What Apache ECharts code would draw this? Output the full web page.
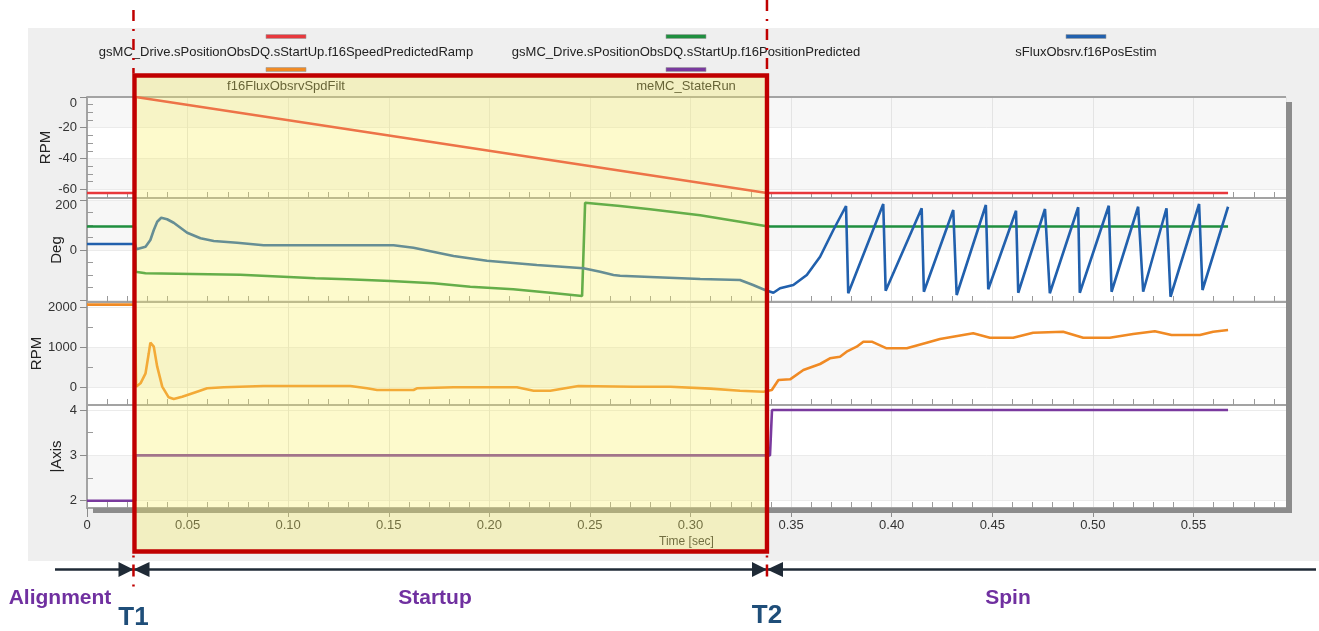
<!DOCTYPE html>
<html>
<head>
<meta charset="utf-8">
<script src="https://cdn.jsdelivr.net/npm/echarts@6/dist/echarts.min.js"></script>
<style>
  html, body { margin: 0; padding: 0; background: #ffffff; }
  #chart { width: 1319px; height: 631px; }
</style>
</head>
<body>
<div id="chart"></div>
<script>
// ---------- data ----------
// time axis (seconds)
const timeMin = 0;
const timeMax = 0.596;
const timeStep = 0.05;

// phase boundaries (seconds) and their names
const phaseBounds = [0.0231, 0.338];
const boundNames = ['T1', 'T2'];
const phaseNames = ['Alignment', 'Startup', 'Spin'];

const seriesNames = [
  'gsMC_Drive.sPositionObsDQ.sStartUp.f16SpeedPredictedRamp',
  'gsMC_Drive.sPositionObsDQ.sStartUp.f16PositionPredicted',
  'sFluxObsrv.f16PosEstim',
  'f16FluxObsrvSpdFilt',
  'meMC_StateRun'
];

// predicted speed ramp [RPM]
const rampTime = [0, 0.0238, 0.0242, 0.338, 0.5672];
const rampRpm  = [-62.4, -62.4, 0, -62.4, -62.4];

// predicted position [Deg]
const posPredTime = [0, 0.0238, 0.0241, 0.0291, 0.0762, 0.0976, 0.1135, 0.1294, 0.1508, 0.1722,
  0.1905, 0.2119, 0.2302, 0.2461, 0.2476, 0.2650, 0.2799, 0.3048, 0.3246, 0.3371, 0.3395, 0.5672];
const posPredDeg  = [94, 94, -87, -93, -99, -107, -113, -117, -124, -133,
  -147, -157, -171, -184, 189, 176, 163, 139, 113, 96, 94, 94];

// estimated position [Deg]
const posEstTime = [0, 0.0238, 0.0246, 0.0291, 0.0315, 0.0332, 0.0349, 0.0369, 0.0398, 0.0431,
  0.0498, 0.0564, 0.0630, 0.0746, 0.0878, 0.1524, 0.1623, 0.1822, 0.1988, 0.2236,
  0.2468, 0.2551, 0.2617, 0.2650, 0.2800, 0.3048, 0.3246, 0.3311, 0.3370, 0.3412,
  0.3445, 0.3511, 0.3578, 0.3644, 0.3710, 0.3773, 0.3784, 0.3958, 0.3970, 0.4149,
  0.4160, 0.4306, 0.4323, 0.4468, 0.4480, 0.4618, 0.4629, 0.4762, 0.4786, 0.4927,
  0.4935, 0.5079, 0.5093, 0.5225, 0.5250, 0.5366, 0.5386, 0.5528, 0.5545, 0.5672];
const posEstDeg  = [24, 24, 3, 13, 40, 80, 113, 129, 123, 109,
  69, 47, 36, 29, 19, 19, 9, -24, -43, -60,
  -73, -87, -100, -103, -108, -116, -120, -140, -160, -171,
  -153, -140, -100, -27, 80, 176, -173, 184, -163, 167,
  -167, 160, -180, 180, -157, 157, -171, 164, -173, 171,
  -171, 177, -167, 173, -167, 167, -187, 184, -160, 173];

// filtered observer speed [RPM]
const spdTime = [0, 0.0238, 0.0244, 0.0266, 0.0291, 0.0307, 0.0315, 0.0332, 0.0349, 0.0374,
  0.0406, 0.0431, 0.0473, 0.0547, 0.0597, 0.0680, 0.0878, 0.1309, 0.1392, 0.1442,
  0.1623, 0.1640, 0.1822, 0.2137, 0.2220, 0.2303, 0.2443, 0.2716, 0.2900, 0.3100,
  0.3246, 0.3362, 0.3404, 0.3437, 0.3495, 0.3561, 0.3644, 0.3693, 0.3743, 0.3776,
  0.3826, 0.3859, 0.3901, 0.3975, 0.4075, 0.4174, 0.4240, 0.4405, 0.4488, 0.4604,
  0.4703, 0.4852, 0.4952, 0.5084, 0.5200, 0.5308, 0.5391, 0.5532, 0.5598, 0.5672];
const spdRpm  = [2060, 2060, 8, 92, 342, 842, 1108, 1008, 508, 8,
  -258, -300, -242, -117, -33, -8, 25, 25, -33, -75,
  -75, -33, -8, -8, -92, -92, 25, 8, 8, -40,
  -92, -117, -75, 175, 192, 425, 575, 717, 758, 883,
  1008, 1133, 1133, 967, 967, 1108, 1200, 1342, 1233, 1233,
  1358, 1383, 1233, 1233, 1325, 1392, 1300, 1300, 1383, 1425];

// application state
const stateTime = [0, 0.0240, 0.0241, 0.3395, 0.3400, 0.3405, 0.5672];
const stateVal  = [2, 2, 3, 3, 3.5, 4, 4];

// y-axis ranges and ticks per panel
const rpmRange = [-65.7, 0];
const rpmTicks = [-60, -40, -20, 0];
const rpmMinor = [-55, -50, -45, -35, -30, -25, -15, -10, -5];
const degRange = [-208, 208];
const degTicks = [-200, 0, 200];
const degLabels = [0, 200];
const degMinor = [-150, -100, -50, 50, 100, 150];
const spdRange = [-450, 2125];
const spdTicks = [0, 1000, 2000];
const spdMinor = [500, 1500];
const stateRange = [1.84, 4.11];
const stateTicks = [2, 3, 4];
const stateMinor = [2.5, 3.5];

// ---------- chart ----------
const zip = (xs, ys) => xs.map((x, i) => [x, ys[i]]);
const FONT = '"Liberation Sans", Arial, sans-serif';
const AXIS_GRAY = '#a3a3a3';
const colors = ['#e8383d', '#1f8f3f', '#2160ad', '#f08a24', '#7a3a9e'];

const PLOT_LEFT = 87, PLOT_W = 1199;
const panelTops = [97, 198, 302, 405];
const panelHeights = [101, 104, 103, 103];

// minor time ticks every 0.01 s, skipping the labelled 0.05 s steps
const minorTimeTicks = [];
for (let k = 1; k < 60; k++) if (k % 5 !== 0) minorTimeTicks.push(k / 100);

const panels = [
  { range: rpmRange, ticks: rpmTicks, labels: rpmTicks, minor: rpmMinor, name: 'RPM', gap: 34, bands: ['#f7f7f7', '#ffffff'], topPad: 12 },
  { range: degRange, ticks: degTicks, labels: degLabels, minor: degMinor, name: 'Deg', gap: 23, bands: ['#ffffff', '#f7f7f7'], topPad: 10 },
  { range: spdRange, ticks: spdTicks, labels: spdTicks, minor: spdMinor, name: 'RPM', gap: 43, bands: ['#f7f7f7', '#ffffff'], topPad: 0 },
  { range: stateRange, ticks: stateTicks, labels: stateTicks, minor: stateMinor, name: '|Axis', gap: 23, bands: ['#f7f7f7', '#ffffff'], topPad: 0 }
];

const grid = panelTops.map((top, i) => ({
  left: PLOT_LEFT, top: top, width: PLOT_W, height: panelHeights[i],
  show: true, backgroundColor: '#ffffff', borderWidth: 0
}));

const timeLabel = v => (v === 0 ? '0' : v.toFixed(2));

const xAxis = [];
panelTops.forEach((_, i) => {
  const bottom = i === 3;
  xAxis.push({
    type: 'value', gridIndex: i, position: 'bottom',
    min: timeMin, max: timeMax, interval: timeStep,
    axisLine: { show: true, onZero: false, lineStyle: { color: AXIS_GRAY, width: 2 } },
    axisTick: { show: bottom, length: 9, lineStyle: { color: '#8c8c8c', width: 1 } },
    axisLabel: { show: bottom, formatter: timeLabel, showMaxLabel: false, margin: 11,
      fontSize: 13, color: '#333', fontFamily: FONT },
    splitLine: { show: true, lineStyle: { color: '#e4e4e4', width: 1 } },
    name: bottom ? 'Time [sec]' : '', nameLocation: 'middle', nameGap: 28,
    nameMoveOverlap: false,
    nameTextStyle: { fontSize: 12, color: '#333', fontFamily: FONT }
  });
});
panelTops.forEach((_, i) => {
  xAxis.push({
    type: 'value', gridIndex: i, position: 'bottom', min: timeMin, max: timeMax,
    axisLine: { show: false, onZero: false }, axisLabel: { show: false }, splitLine: { show: false },
    axisTick: { show: true, inside: true, length: 6, customValues: minorTimeTicks,
      lineStyle: { color: '#9a9a9a', width: 1 } }
  });
});

const yAxis = [];
panels.forEach((p, i) => {
  const topLabel = p.labels[p.labels.length - 1];
  yAxis.push({
    type: 'value', gridIndex: i, position: 'left', min: p.range[0], max: p.range[1],
    name: p.name, nameLocation: 'middle', nameGap: p.gap, nameMoveOverlap: false,
    nameTextStyle: { fontSize: 15, color: '#222', fontFamily: FONT },
    axisLine: { show: true, onZero: false, lineStyle: { color: AXIS_GRAY, width: 2 } },
    axisTick: { show: true, inside: false, length: 7, customValues: p.ticks,
      lineStyle: { color: '#8c8c8c', width: 1 } },
    axisLabel: {
      show: true, customValues: p.labels, margin: 10, fontSize: 13, color: '#333', fontFamily: FONT,
      formatter: v => (v === topLabel && p.topPad ? '{t|' + v + '}' : String(v)),
      rich: { t: { fontSize: 13, color: '#333', fontFamily: FONT, padding: [p.topPad, 0, 0, 0] } }
    },
    splitLine: { show: true, lineStyle: { color: '#ebebeb', width: 1 } },
    splitArea: { show: true, areaStyle: { color: p.bands } }
  });
});
panels.forEach((p, i) => {
  yAxis.push({
    type: 'value', gridIndex: i, position: 'left', min: p.range[0], max: p.range[1],
    axisLine: { show: false, onZero: false }, axisLabel: { show: false }, splitLine: { show: false },
    axisTick: { show: true, inside: true, length: 6, customValues: p.minor,
      lineStyle: { color: '#9a9a9a', width: 1 } }
  });
});

const lineSeries = (name, data, panel, color) => ({
  name, type: 'line', xAxisIndex: panel, yAxisIndex: panel, data,
  showSymbol: false, symbol: 'none', z: 3,
  lineStyle: { color, width: 2.6 }
});

const series = [
  lineSeries(seriesNames[0], zip(rampTime, rampRpm), 0, colors[0]),
  lineSeries(seriesNames[1], zip(posPredTime, posPredDeg), 1, colors[1]),
  lineSeries(seriesNames[2], zip(posEstTime, posEstDeg), 1, colors[2]),
  lineSeries(seriesNames[3], zip(spdTime, spdRpm), 2, colors[3]),
  lineSeries(seriesNames[4], zip(stateTime, stateVal), 3, colors[4])
];

const chart = echarts.init(document.getElementById('chart'), null, { renderer: 'canvas' });
chart.setOption({ animation: false, grid, xAxis, yAxis, series });

// ---------- decorations placed through the time axis ----------
const px = t => chart.convertToPixel({ xAxisIndex: 3 }, t);
const x1 = px(phaseBounds[0]);
const x2 = px(phaseBounds[1]);
const RED = '#c00000';
const plotRight = PLOT_LEFT + PLOT_W;
const plotBottom = panelTops[3] + panelHeights[3];

const graphic = [];
// panel background
graphic.push({ type: 'rect', z: -10, silent: true,
  shape: { x: 28, y: 28, width: 1291, height: 533 }, style: { fill: '#efefef' } });
// plot frame top edge and drop shadow
graphic.push({ type: 'line', z: 1, silent: true,
  shape: { x1: PLOT_LEFT, y1: panelTops[0], x2: plotRight, y2: panelTops[0] },
  style: { stroke: AXIS_GRAY, lineWidth: 2 } });
graphic.push({ type: 'rect', z: 1, silent: true,
  shape: { x: PLOT_LEFT + 6, y: plotBottom, width: PLOT_W, height: 5 }, style: { fill: '#8c8c8c' } });
graphic.push({ type: 'rect', z: 1, silent: true,
  shape: { x: plotRight, y: panelTops[0] + 5, width: 6, height: plotBottom - panelTops[0] }, style: { fill: '#8c8c8c' } });

// legend
const legendSlots = [[286, 36.5, 52.5], [686, 36.5, 52.5], [1086, 36.5, 52.5], [286, 69.5, 86], [686, 69.5, 86]];
seriesNames.forEach((n, i) => {
  const [cx, sy, ty] = legendSlots[i];
  graphic.push({ type: 'rect', z: 2, silent: true,
    shape: { x: cx - 20, y: sy - 2, width: 40, height: 4 },
    style: { fill: colors[i], stroke: '#9a9a9a', lineWidth: 0.6 } });
  graphic.push({ type: 'text', z: 2, silent: true,
    style: { text: n, x: cx, y: ty, fill: '#222', font: '13px ' + FONT, align: 'center', verticalAlign: 'middle' } });
});

// highlighted startup window
const boxTop = 75.5, boxBottom = 551.5;
graphic.push({ type: 'rect', z: 50, silent: true,
  shape: { x: x1, y: boxTop, width: x2 - x1, height: boxBottom - boxTop },
  style: { fill: 'rgba(250,240,95,0.32)' } });
graphic.push({ type: 'rect', z: 60, silent: true,
  shape: { x: x1 + 1, y: boxTop, width: x2 - x1 - 1, height: boxBottom - boxTop },
  style: { fill: 'none', stroke: RED, lineWidth: 4.4 } });

// event markers: dash-dot lines
const dashDot = [11, 8, 2, 8];
[[x1, 10, 590], [x2, 0, 583]].forEach(([x, yTop, yBot]) => {
  graphic.push({ type: 'line', z: 70, silent: true,
    shape: { x1: x, y1: yTop, x2: x, y2: boxTop - 2 },
    style: { stroke: RED, lineWidth: 2.5, lineDash: dashDot } });
  graphic.push({ type: 'line', z: 70, silent: true,
    shape: { x1: x, y1: boxBottom + 4, x2: x, y2: yBot },
    style: { stroke: RED, lineWidth: 2.5, lineDash: [2, 7, 12, 8] } });
});

// timeline with arrowheads at the events
const lineY = 569.5;
graphic.push({ type: 'line', z: 65, silent: true,
  shape: { x1: 55, y1: lineY, x2: 1316, y2: lineY },
  style: { stroke: '#1f2a36', lineWidth: 2.5 } });
[x1, x2].forEach(x => {
  graphic.push({ type: 'polygon', z: 66, silent: true,
    shape: { points: [[x - 15, lineY - 7.5], [x - 15, lineY + 7.5], [x, lineY]] },
    style: { fill: '#1f2a36' } });
  graphic.push({ type: 'polygon', z: 66, silent: true,
    shape: { points: [[x + 16, lineY - 7.5], [x + 16, lineY + 7.5], [x, lineY]] },
    style: { fill: '#1f2a36' } });
});

// phase and event labels
const phaseLabelX = [60, 435, 1008];
phaseNames.forEach((n, i) => {
  graphic.push({ type: 'text', z: 66, silent: true,
    style: { text: n, x: phaseLabelX[i], y: 598, fill: '#7030a0', font: 'bold 21px ' + FONT,
      align: 'center', verticalAlign: 'middle' } });
});
[x1, x2].forEach((x, i) => {
  graphic.push({ type: 'text', z: 66, silent: true,
    style: { text: boundNames[i], x: x, y: i === 0 ? 618 : 616, fill: '#1f4e79', font: 'bold 26px ' + FONT,
      align: 'center', verticalAlign: 'middle' } });
});

chart.setOption({ graphic });
</script>
</body>
</html>
